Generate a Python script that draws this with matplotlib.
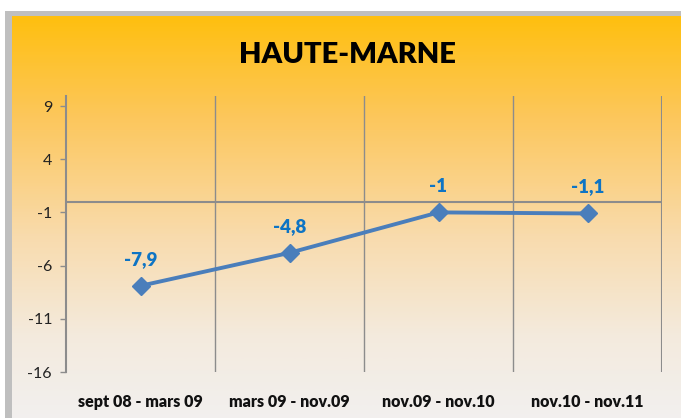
import numpy as np
import matplotlib
matplotlib.use("Agg")
import matplotlib.pyplot as plt
from matplotlib.colors import LinearSegmentedColormap
from matplotlib.patches import Rectangle

categories = ["sept 08 - mars 09", "mars 09 - nov.09", "nov.09 - nov.10", "nov.10 - nov.11"]
values = [-7.9, -4.8, -1.0, -1.1]
value_labels = ["-7,9", "-4,8", "-1", "-1,1"]
yticks = [9, 4, -1, -6, -11, -16]
title = "HAUTE-MARNE"

plt.rcParams['font.family'] = ['Lato', 'DejaVu Sans']

W, H = 681, 418
fig = plt.figure(figsize=(W/100, H/100), dpi=100)
fig.patch.set_facecolor("white")

# background gradient area
bg = fig.add_axes([12/W, 0, 1 - 12/W, 1 - 16/H])
bg.set_axis_off()
cmap = LinearSegmentedColormap.from_list("g", [
    (0.0, (1.0, 0.75, 0.06)),
    (0.25, (0.99, 0.78, 0.36)),
    (0.55, (0.975, 0.86, 0.68)),
    (0.8, (0.955, 0.92, 0.87)),
    (1.0, (0.95, 0.94, 0.935)),
])
grad = np.linspace(0, 1, 400).reshape(-1, 1)
bg.imshow(grad, aspect="auto", cmap=cmap, extent=[0, 1, 0, 1])
bg.set_xlim(0, 1); bg.set_ylim(0, 1)

# gray border (left and top)
fig.patches.append(Rectangle((5/W, 0), 7/W, 1 - 11/H, transform=fig.transFigure,
                             facecolor="#BFBFBF", edgecolor="none", zorder=0.5))
fig.patches.append(Rectangle((5/W, 1 - 16/H), 1 - 5/W, 5/H, transform=fig.transFigure,
                             facecolor="#BFBFBF", edgecolor="none", zorder=0.5))

ax = fig.add_axes([66/W, 1 - 372/H, (662 - 66)/W, (372 - 96)/H])
ax.patch.set_alpha(0)
x = np.arange(len(categories))
ax.set_xlim(-0.5, len(categories) - 0.5)
ax.set_ylim(-16, 9.94)

for b in np.arange(0.5, len(categories), 1.0):
    ax.axvline(b, color="#8C8C8C", lw=1.0, zorder=1)
ax.axvline(len(categories) - 0.5, color="#8C8C8C", lw=1.5, zorder=1)
ax.axhline(0, color="#8C8C8C", lw=1.5, zorder=1)

for s in ["top", "right", "bottom"]:
    ax.spines[s].set_visible(False)
ax.spines["left"].set_color("#8C8C8C")
ax.spines["left"].set_linewidth(1.5)

ax.plot(x, values, color="#4A7EBB", lw=2.8, marker="D", markersize=9,
        markerfacecolor="#4A7EBB", markeredgecolor="#4A7EBB", zorder=3, clip_on=False)

for xi, v, lab in zip(x, values, value_labels):
    ax.annotate(lab, (xi, v), xytext=(0, 19), textcoords="offset points",
                ha="center", va="center", color="#0E74C4", fontsize=13.5, fontweight="heavy")

ax.set_yticks(yticks)
ax.set_yticklabels([str(t) for t in yticks], fontsize=11.5, color="#222222")
ax.tick_params(axis="y", direction="out", length=4, width=1, color="#8C8C8C", pad=6)
ax.set_xticks(x)
ax.set_xticklabels(categories, fontsize=11.5, fontweight="heavy", color="#111111")
ax.tick_params(axis="x", length=0, pad=16)

fig.text((240 + 455) / 2 / W, 1 - 55/H, title, ha="center", va="center",
         fontsize=21, fontweight="heavy", color="black")

fig.savefig("out.png", dpi=100)
